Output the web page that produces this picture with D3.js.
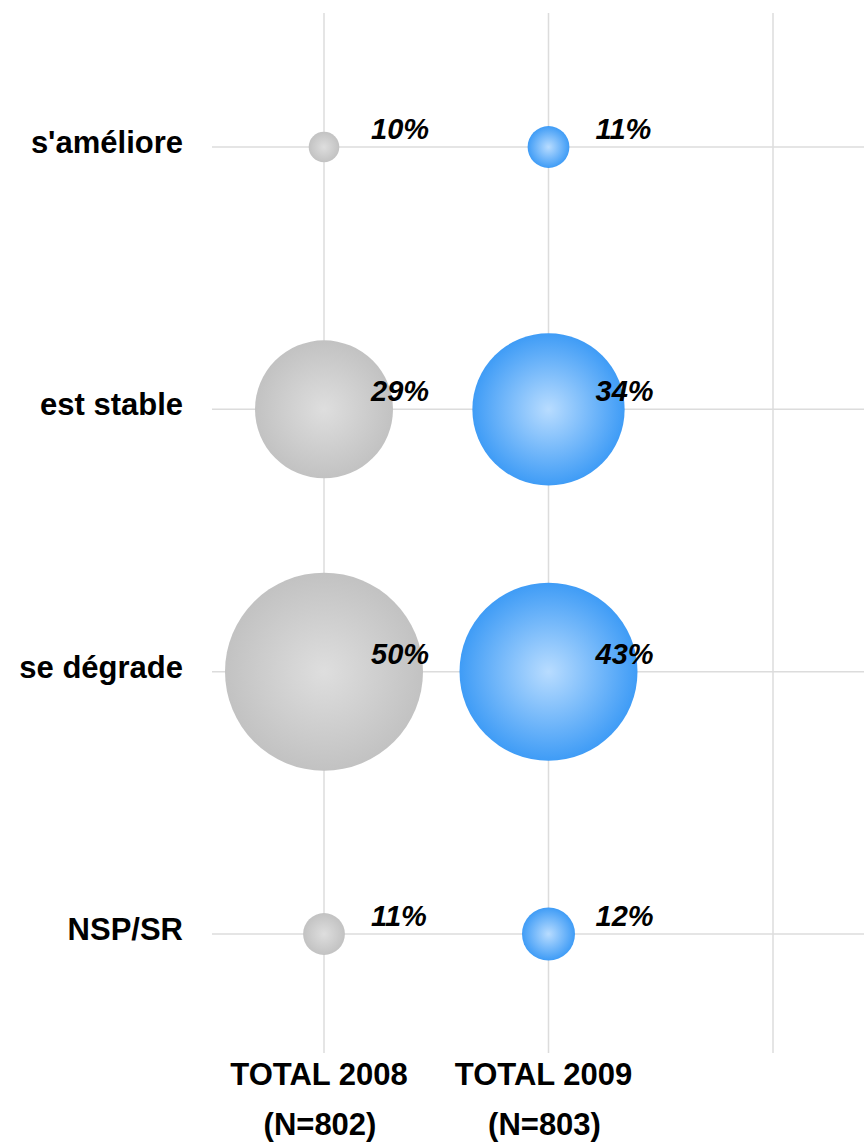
<!DOCTYPE html>
<html>
<head>
<meta charset="utf-8">
<script src="https://cdn.jsdelivr.net/npm/d3@7"></script>
<style>
  body { margin: 0; background: #fff; }
  text { font-family: "Liberation Sans", Arial, sans-serif; font-weight: bold; fill: #000; }
</style>
</head>
<body>
<script>
// Chart data
var categories = ["s'améliore", "est stable", "se dégrade", "NSP/SR"];
var columns = ["TOTAL 2008", "TOTAL 2009"];
var sampleSizes = ["(N=802)", "(N=803)"];
var values2008 = [10, 29, 50, 11];
var values2009 = [11, 34, 43, 12];

// SVG area
var svgWidth = 864;
var svgHeight = 1143;

var svg = d3.select("body")
  .append("svg")
  .attr("width", svgWidth)
  .attr("height", svgHeight);

// Gradients for the bubbles
var defs = svg.append("defs");
function addGradient(id, inner, outer) {
  var g = defs.append("radialGradient")
    .attr("id", id)
    .attr("cx", "50%").attr("cy", "50%").attr("r", "50%");
  g.append("stop").attr("offset", "0%").attr("stop-color", inner);
  g.append("stop").attr("offset", "100%").attr("stop-color", outer);
}
addGradient("grad2008", "#dedede", "#c2c2c2");
addGradient("grad2009", "#b8dcff", "#3f9cf6");

// Scales: three column slots, the last one stays empty
var xScale = d3.scalePoint()
  .domain([0, 1, 2])
  .range([324, 773]);

var yScale = d3.scalePoint()
  .domain(categories)
  .range([147, 934]);

var rScale = d3.scaleLinear()
  .domain([0, 10, 12, 29, 50])
  .range([0, 15.3, 26.5, 69, 99]);

// Grid lines
svg.append("g").selectAll("line")
  .data(xScale.domain())
  .enter()
  .append("line")
  .attr("x1", d => xScale(d))
  .attr("x2", d => xScale(d))
  .attr("y1", 13)
  .attr("y2", 1053)
  .attr("stroke", "#dcdcdc")
  .attr("stroke-width", 1.5);

svg.append("g").selectAll("line")
  .data(categories)
  .enter()
  .append("line")
  .attr("x1", 212)
  .attr("x2", svgWidth)
  .attr("y1", d => yScale(d))
  .attr("y2", d => yScale(d))
  .attr("stroke", "#dcdcdc")
  .attr("stroke-width", 1.5);

// Category labels
svg.append("g").selectAll("text")
  .data(categories)
  .enter()
  .append("text")
  .attr("x", 183)
  .attr("y", d => yScale(d) + 6)
  .attr("text-anchor", "end")
  .style("font-size", "31px")
  .text(d => d);

// Bubbles and their labels
var series = [
  { values: values2008, fill: "url(#grad2008)" },
  { values: values2009, fill: "url(#grad2009)" }
];

series.forEach(function(s, i) {
  var g = svg.append("g");
  g.selectAll("circle")
    .data(s.values)
    .enter()
    .append("circle")
    .attr("cx", xScale(i))
    .attr("cy", (d, j) => yScale(categories[j]))
    .attr("r", d => rScale(d))
    .attr("fill", s.fill);

  g.selectAll("text")
    .data(s.values)
    .enter()
    .append("text")
    .attr("x", xScale(i) + 47)
    .attr("y", (d, j) => yScale(categories[j]) - 8)
    .style("font-size", "29px")
    .style("font-style", "italic")
    .text(d => d + "%");
});

// Column labels
var colLabels = svg.append("g").selectAll("text")
  .data(columns)
  .enter()
  .append("text")
  .attr("text-anchor", "middle")
  .style("font-size", "31px");

colLabels.append("tspan")
  .attr("x", (d, i) => xScale(i) - 5)
  .attr("y", 1085)
  .text(d => d);

colLabels.append("tspan")
  .attr("x", (d, i) => xScale(i) - 4)
  .attr("y", 1135)
  .text((d, i) => sampleSizes[i]);
</script>
</body>
</html>
